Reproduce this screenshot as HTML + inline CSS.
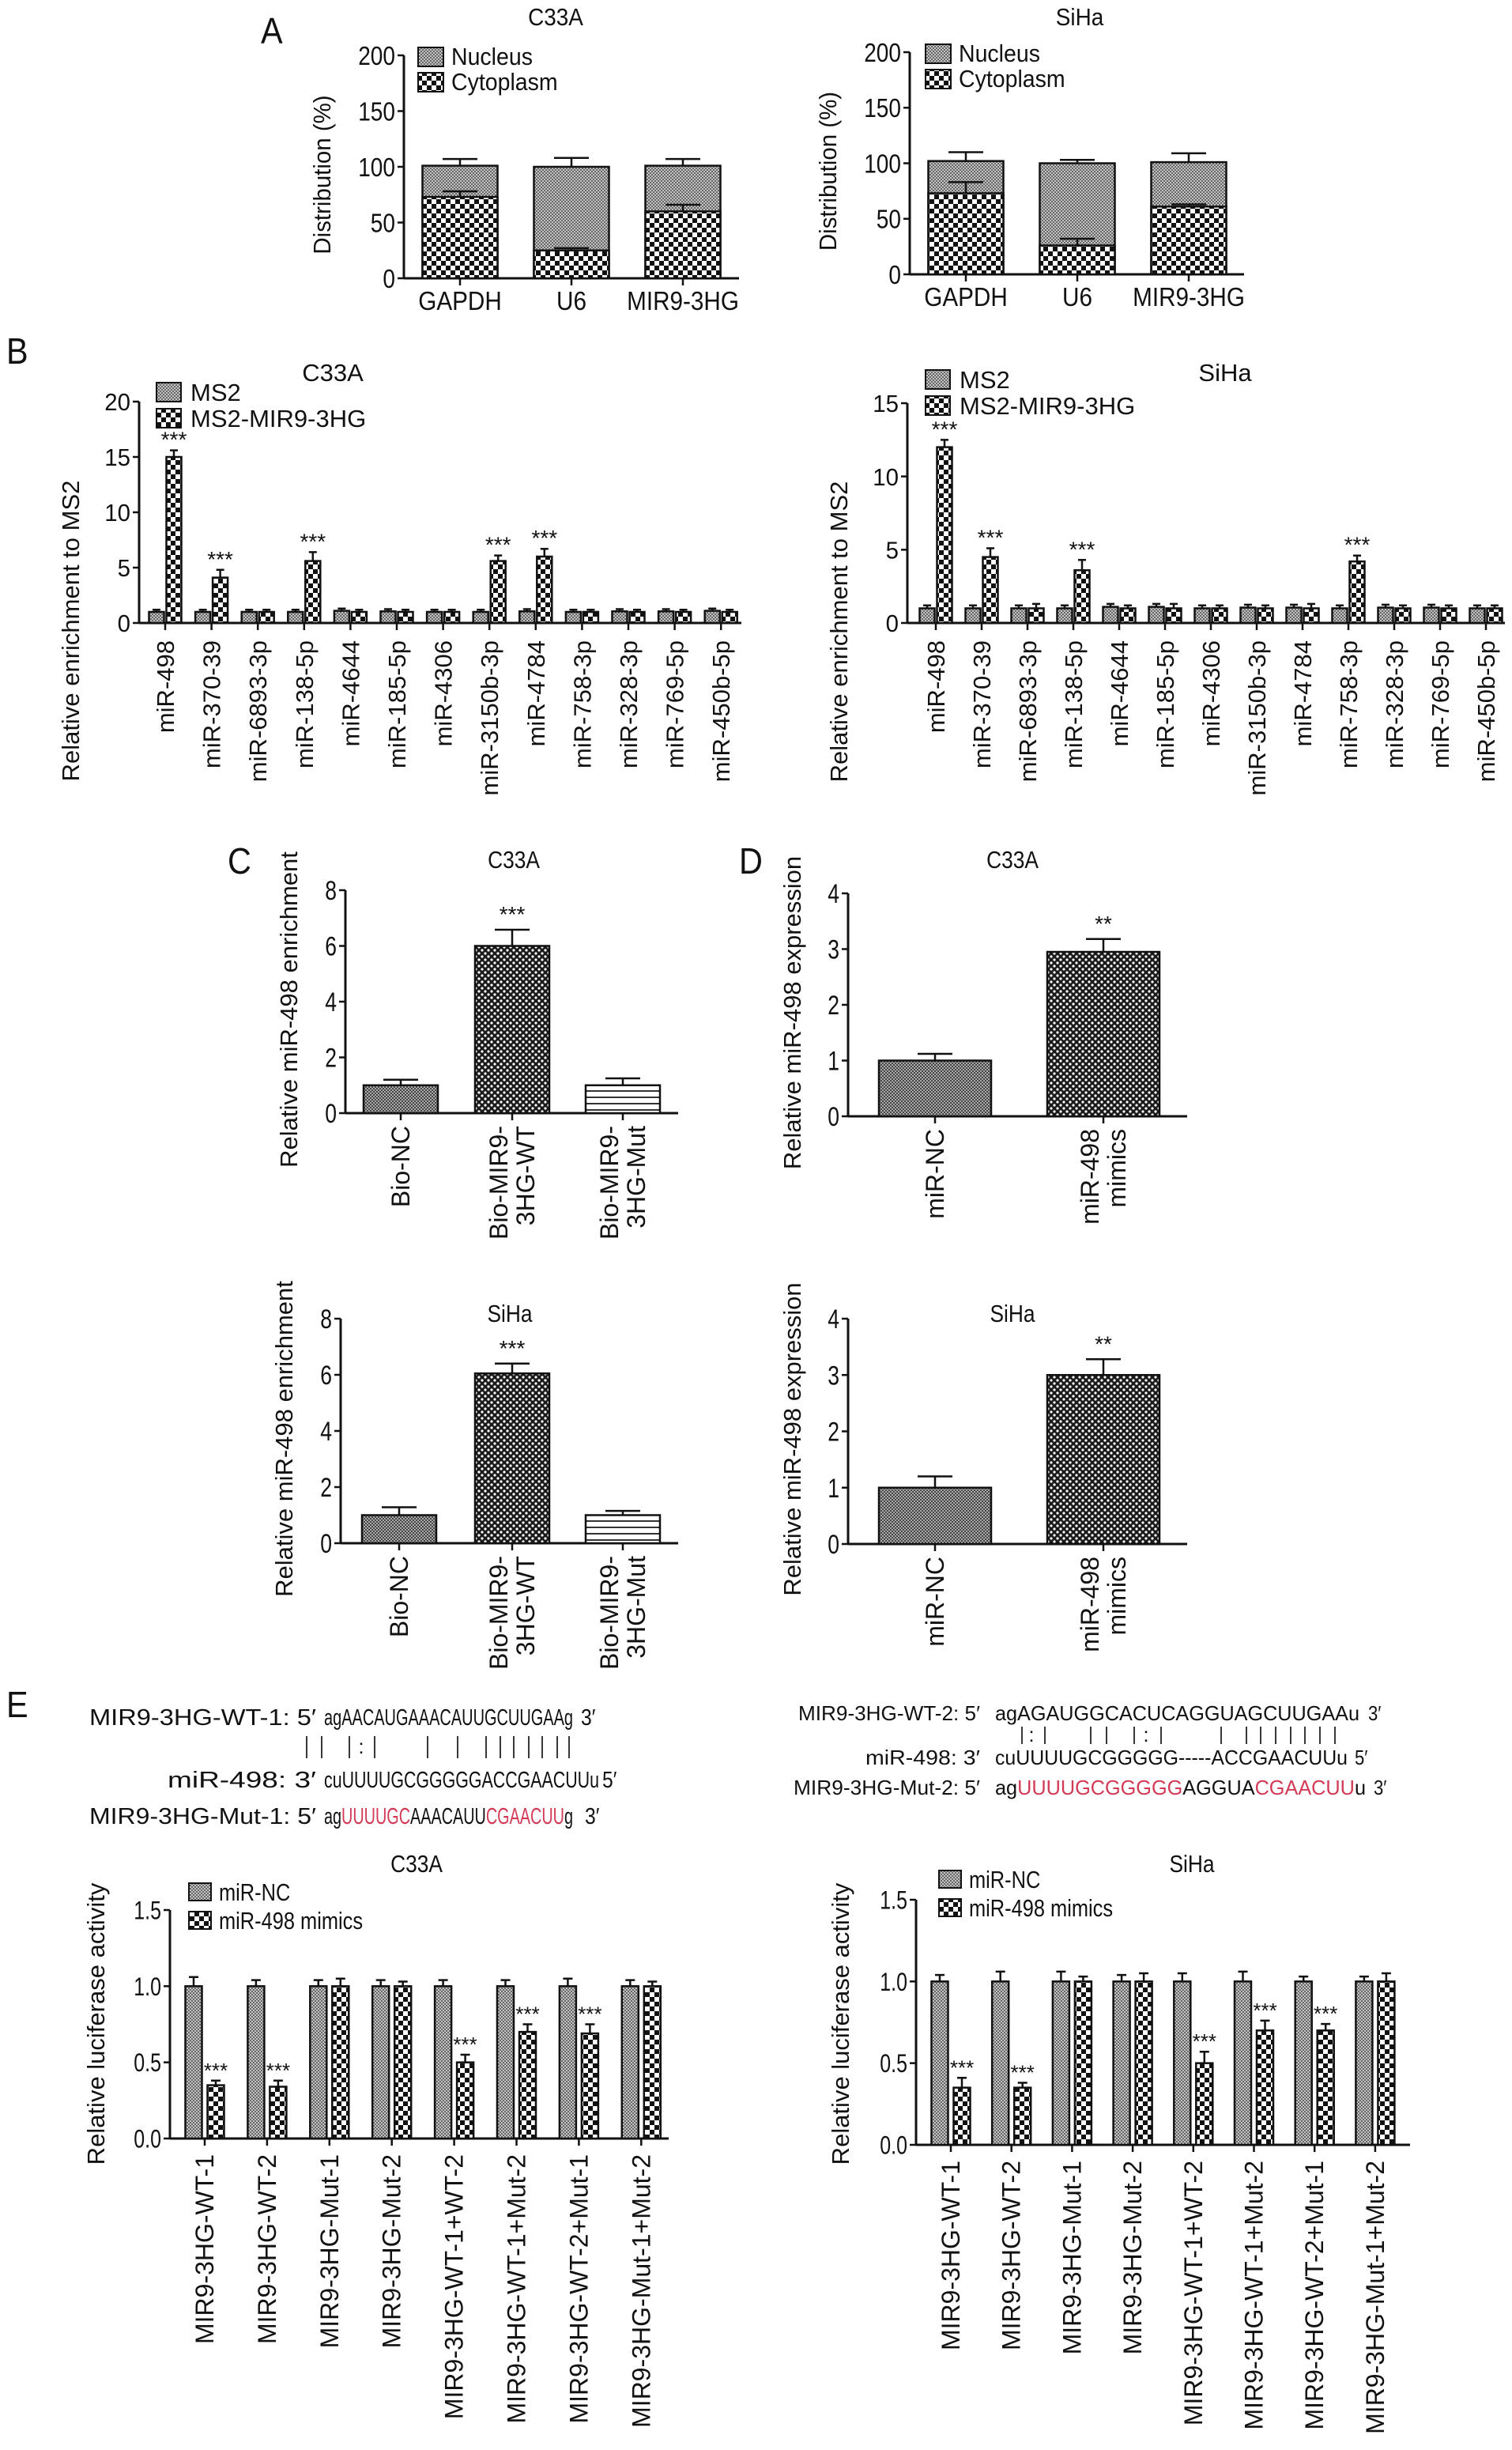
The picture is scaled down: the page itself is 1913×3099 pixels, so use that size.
<!DOCTYPE html>
<html><head><meta charset="utf-8"><title>Figure</title>
<style>html,body{margin:0;padding:0;background:#fff}svg{display:block;font-family:"Liberation Sans",Arial,sans-serif}</style>
</head><body>
<svg id="fig" width="1913" height="3099" viewBox="0 0 1913 3099" xmlns="http://www.w3.org/2000/svg">
<defs>
<pattern id="pGray" width="4" height="4" patternUnits="userSpaceOnUse"><rect width="4" height="4" fill="#c4c4c4"/><rect width="2" height="2" fill="#666"/><rect x="2" y="2" width="2" height="2" fill="#666"/></pattern>
<pattern id="pCheck" width="12" height="12" patternUnits="userSpaceOnUse"><rect width="12" height="12" fill="#fff"/><rect width="6" height="6" fill="#111"/><rect x="6" y="6" width="6" height="6" fill="#111"/></pattern>
<pattern id="pDot" width="8" height="8" patternUnits="userSpaceOnUse"><rect width="8" height="8" fill="#1a1a1a"/><circle cx="2" cy="2" r="1.6" fill="#fff"/><circle cx="6" cy="6" r="1.6" fill="#fff"/></pattern>
<pattern id="pStripe" width="8" height="8" patternUnits="userSpaceOnUse"><rect width="8" height="8" fill="#fff"/><rect y="3" width="8" height="2" fill="#333"/></pattern>
<pattern id="pDark" width="4" height="4" patternUnits="userSpaceOnUse"><rect width="4" height="4" fill="#aaa"/><rect width="2" height="2" fill="#444"/><rect x="2" y="2" width="2" height="2" fill="#444"/></pattern>
</defs>
</svg>
<script>
// ---------- Panel A data ----------
const aCats = ['GAPDH', 'U6', 'MIR9-3HG'];
const aC33aCyto = [73, 25, 60];
const aC33aCytoErr = [5, 2, 6];
const aC33aTotal = [101, 100, 101];
const aC33aTotalErr = [6, 8, 6];
const aSihaCyto = [73, 26, 61];
const aSihaCytoErr = [10, 6, 2];
const aSihaTotal = [102, 100, 101];
const aSihaTotalErr = [8, 3, 8];
const aTicks = [0, 50, 100, 150, 200];
// ---------- Panel B data ----------
const bC33aCats = ['miR-498','miR-370-39','miR-6893-3p','miR-138-5p','miR-4644','miR-185-5p','miR-4306','miR-3150b-3p','miR-4784','miR-758-3p','miR-328-3p','miR-769-5p','miR-450b-5p'];
const bC33aMs2 = [1, 1, 1, 1, 1.1, 1.05, 1, 1, 1.05, 1, 1.05, 1.05, 1.1];
const bC33aMir = [15, 4.1, 1, 5.6, 1, 1, 1, 5.6, 6, 1, 1, 1, 1];
const bC33aMirErr = [0.6, 0.7, 0.2, 0.8, 0.2, 0.2, 0.2, 0.5, 0.7, 0.2, 0.2, 0.2, 0.2];
const bC33aSig = ['***','***','','***','','','','***','***','','','',''];
const bC33aTicks = [0, 5, 10, 15, 20];
const bSihaCats = ['miR-498','miR-370-39','miR-6893-3p','miR-138-5p','miR-4644','miR-185-5p','miR-4306','miR-3150b-3p','miR-4784','miR-758-3p','miR-328-3p','miR-769-5p','miR-450b-5p'];
const bSihaMs2 = [1, 1, 1, 1, 1.1, 1.1, 1, 1.05, 1.05, 1, 1.05, 1.05, 1];
const bSihaMir = [12, 4.5, 1, 3.6, 1, 1, 1, 1, 1, 4.2, 1, 1, 1];
const bSihaMirErr = [0.5, 0.6, 0.3, 0.7, 0.2, 0.3, 0.2, 0.2, 0.3, 0.4, 0.2, 0.2, 0.2];
const bSihaSig = ['***','***','','***','','','','','','***','','',''];
const bSihaTicks = [0, 5, 10, 15];
// ---------- Panel C / D data ----------
const cCats = [['Bio-NC'], ['Bio-MIR9-', '3HG-WT'], ['Bio-MIR9-', '3HG-Mut']];
const cC33aVals = [1, 6, 1];
const cC33aErr = [0.2, 0.58, 0.25];
const cSihaVals = [1, 6.05, 1];
const cSihaErr = [0.28, 0.35, 0.15];
const cSig = ['', '***', ''];
const cTicks = [0, 2, 4, 6, 8];
const dCats = [['miR-NC'], ['miR-498', 'mimics']];
const dC33aVals = [1, 2.95];
const dC33aErr = [0.12, 0.23];
const dSihaVals = [1, 3.0];
const dSihaErr = [0.2, 0.28];
const dSig = ['', '**'];
const dTicks = [0, 1, 2, 3, 4];
// ---------- Panel E data ----------
const eCats = ['MIR9-3HG-WT-1','MIR9-3HG-WT-2','MIR9-3HG-Mut-1','MIR9-3HG-Mut-2','MIR9-3HG-WT-1+WT-2','MIR9-3HG-WT-1+Mut-2','MIR9-3HG-WT-2+Mut-1','MIR9-3HG-Mut-1+Mut-2'];
const eC33aNc = [1, 1, 1, 1, 1, 1, 1, 1];
const eC33aNcErr = [0.06, 0.04, 0.04, 0.04, 0.04, 0.04, 0.05, 0.04];
const eC33aMim = [0.35, 0.34, 1, 1, 0.5, 0.7, 0.69, 1];
const eC33aMimErr = [0.03, 0.04, 0.05, 0.03, 0.05, 0.05, 0.06, 0.03];
const eSihaNc = [1, 1, 1, 1, 1, 1, 1, 1];
const eSihaNcErr = [0.04, 0.06, 0.06, 0.04, 0.05, 0.06, 0.03, 0.03];
const eSihaMim = [0.35, 0.35, 1, 1, 0.5, 0.7, 0.7, 1];
const eSihaMimErr = [0.06, 0.03, 0.03, 0.05, 0.07, 0.06, 0.04, 0.05];
const eSig = ['***','***','','','***','***','***',''];
const eTicks = [0, 0.5, 1.0, 1.5];
const eTickLabels = ['0.0', '0.5', '1.0', '1.5'];

const NS = 'http://www.w3.org/2000/svg';
const svg = document.getElementById('fig');
function el(tag, parent, attrs) {
  const e = document.createElementNS(NS, tag);
  if (attrs) for (const k in attrs) e.setAttribute(k, attrs[k]);
  parent.appendChild(e);
  return e;
}
function T(parent, x, y, s, size, anchor, sx, rot) {
  const t = el('text', parent, {'font-size': size, 'text-anchor': anchor || 'start', fill: '#111'});
  let tr = 'translate(' + x + ',' + y + ')';
  if (rot) tr += ' rotate(' + rot + ')';
  if (sx && sx !== 1) tr += ' scale(' + sx + ',1)';
  t.setAttribute('transform', tr);
  t.textContent = s;
  return t;
}
function grp(name) {
  const g = el('g', svg);
  
  
  return g;
}
function scale(y0, yTop, max) { return v => y0 - (v / max) * (y0 - yTop); }
function axes(g, ax, axEnd, y0, yTop, max, ticks, labels, fs, sx) {
  const ys = scale(y0, yTop, max);
  const ya = el('line', g, {x1: ax, x2: ax, y1: yTop, y2: y0, stroke: '#111', 'stroke-width': 3});
  
  
  const xa = el('line', g, {x1: ax, x2: axEnd, y1: y0, y2: y0, stroke: '#111', 'stroke-width': 3});
  
  
  ticks.forEach((v, i) => {
    const tk = el('line', g, {x1: ax - 8, x2: ax, y1: ys(v), y2: ys(v), stroke: '#111', 'stroke-width': 2.5});
    
    
    const tl = T(g, ax - 11, ys(v) + fs * 0.36, labels ? labels[i] : String(v), fs, 'end', sx);
    
    
  });
  return ys;
}
function bar(g, cx, w, yv, ys, fill, name) {
  const r = el('rect', g, {x: cx - w / 2, y: Math.min(ys(yv), ys(0)), width: w, height: Math.abs(ys(0) - ys(yv)), fill: fill, stroke: '#111', 'stroke-width': 2.5});
  
  
  return r;
}
function err(g, cx, v, e, ys, cap) {
  const p = el('path', g, {d: 'M' + cx + ',' + ys(v) + 'V' + ys(v + e) + 'M' + (cx - cap) + ',' + ys(v + e) + 'H' + (cx + cap), stroke: '#111', 'stroke-width': 2.5, fill: 'none'});
  
  
}
function xtick(g, cx, y0) {
  const l = el('line', g, {x1: cx, x2: cx, y1: y0, y2: y0 + 9, stroke: '#111', 'stroke-width': 2.5});
  
  
}
function legendBox(g, x, y, w, h, fill) {
  const r = el('rect', g, {x: x, y: y, width: w, height: h, fill: fill, stroke: '#111', 'stroke-width': 2});
  
  
}

// ---------- Panel letters ----------
[['A', 330, 55], ['B', 8, 460], ['C', 288, 1105], ['D', 935, 1105], ['E', 8, 2172]].forEach(p => {
  const t = T(svg, p[1], p[2], p[0], 46, 'start', 0.9);
  
  
});

// ---------- Panel A ----------
function panelA(name, ax, axEnd, y0, yTop, centers, cyto, cytoErr, total, totalErr, title, tx, ty, ytx, legX, legY) {
  const g = grp(name);
  const ys = axes(g, ax, axEnd, y0, yTop, 200, aTicks, null, 33, 0.85);
  const tt = T(g, tx, ty, title, 31, 'middle', 0.9);
  
  
  const yt = T(g, ytx, (y0 + yTop) / 2 + 10, 'Distribution (%)', 31, 'middle', 0.95, -90);
  
  
  aCats.forEach((c, i) => {
    const cx = centers[i];
    bar(g, cx, 95, total[i], ys, 'url(#pGray)', 'bar-nucleus');
    const cr = el('rect', g, {x: cx - 47.5, y: ys(cyto[i]), width: 95, height: ys(0) - ys(cyto[i]), fill: 'url(#pCheck)', stroke: '#111', 'stroke-width': 2.5});
    
    
    err(g, cx, total[i], totalErr[i], ys, 22);
    err(g, cx, cyto[i], cytoErr[i], ys, 22);
    xtick(g, cx, y0);
    const xl = T(g, cx, y0 + 40, c, 33, 'middle', 0.9);
    
    
  });
  legendBox(g, legX, legY, 32, 24, 'url(#pGray)');
  legendBox(g, legX, legY + 32, 32, 24, 'url(#pCheck)');
  const l1 = T(g, legX + 42, legY + 22, 'Nucleus', 31, 'start', 0.92);
  
  
  const l2 = T(g, legX + 42, legY + 54, 'Cytoplasm', 31, 'start', 0.92);
  
  
}
panelA('panel-a-c33a', 511, 935, 352, 70, [582, 723, 864], aC33aCyto, aC33aCytoErr, aC33aTotal, aC33aTotalErr, 'C33A', 703, 32, 418, 529, 60);
panelA('panel-a-siha', 1151, 1574, 347, 66, [1222, 1363, 1504], aSihaCyto, aSihaCytoErr, aSihaTotal, aSihaTotalErr, 'SiHa', 1366, 32, 1058, 1171, 56);

// ---------- Panel B ----------
function panelB(name, ax, axEnd, y0, yTop, max, ticks, firstC, spacing, cats, ms2, mir, mirErr, sig, title, tx, ty, ytx, legX, legY) {
  const g = grp(name);
  const ys = axes(g, ax, axEnd, y0, yTop, max, ticks, null, 31, 0.95);
  const tt = T(g, tx, ty, title, 31, 'middle');
  
  
  const yt = T(g, ytx, (y0 + yTop) / 2 + 150, 'Relative enrichment to MS2', 31, 'middle', 1, -90);
  
  
  cats.forEach((c, i) => {
    const cx = firstC + i * spacing;
    bar(g, cx - 11, 19, ms2[i], ys, 'url(#pGray)', 'bar-ms2');
    err(g, cx - 11, ms2[i], 0.2, ys, 5);
    bar(g, cx + 11, 19, mir[i], ys, 'url(#pCheck)', 'bar-ms2-mir9-3hg');
    err(g, cx + 11, mir[i], mirErr[i], ys, 5);
    if (sig[i]) {
      const s = T(g, cx + 11, ys(mir[i] + mirErr[i]) - 4, sig[i], 28, 'middle');
      
      
    }
    xtick(g, cx, y0);
    const xl = T(g, cx + 11, y0 + 22, c, 31, 'end', 1, -90);
    
    
  });
  legendBox(g, legX, legY, 31, 24, 'url(#pGray)');
  legendBox(g, legX, legY + 33, 31, 24, 'url(#pCheck)');
  const l1 = T(g, legX + 43, legY + 23, 'MS2', 31);
  
  
  const l2 = T(g, legX + 43, legY + 56, 'MS2-MIR9-3HG', 31);
  
  
}
panelB('panel-b-c33a', 176, 938, 788, 508, 20, bC33aTicks, 209, 58.6, bC33aCats, bC33aMs2, bC33aMir, bC33aMirErr, bC33aSig, 'C33A', 421, 482, 100, 198, 484);
panelB('panel-b-siha', 1148, 1904, 788, 510, 15, bSihaTicks, 1184, 58, bSihaCats, bSihaMs2, bSihaMir, bSihaMirErr, bSihaSig, 'SiHa', 1550, 482, 1072, 1171, 468);

// ---------- Panels C / D ----------
function panelCD(name, ax, axEnd, y0, yTop, max, ticks, centers, w, cats, vals, errs, sig, fills, title, tx, ty, ytitle, ytx) {
  const g = grp(name);
  const ys = axes(g, ax, axEnd, y0, yTop, max, ticks, null, 34, 0.78);
  const tt = T(g, tx, ty, title, 31, 'middle', 0.85);
  
  
  const yt = T(g, ytx, (y0 + yTop) / 2 + 10, ytitle, 31, 'middle', 1, -90);
  
  
  cats.forEach((c, i) => {
    const cx = centers[i];
    bar(g, cx, w, vals[i], ys, fills[i], 'bar-' + c.join('').toLowerCase().replace(/[^a-z0-9]+/g, '-'));
    err(g, cx, vals[i], errs[i], ys, 22);
    if (sig[i]) {
      const s = T(g, cx, ys(vals[i] + errs[i]) - 10, sig[i], 28, 'middle');
      
      
    }
    xtick(g, cx, y0);
    c.forEach((line, j) => {
      const off = (j - (c.length - 1) / 2) * 34;
      const xl = T(g, cx + off + 11, y0 + 16, line, 32, 'end', 1, -90);
      
      
    });
  });
}
const cFills = ['url(#pDark)', 'url(#pDot)', 'url(#pStripe)'];
const dFills = ['url(#pDark)', 'url(#pDot)'];
panelCD('panel-c-c33a', 437, 858, 1408, 1126, 8, cTicks, [507, 648, 788], 94, cCats, cC33aVals, cC33aErr, cSig, cFills, 'C33A', 650, 1098, 'Relative miR-498 enrichment', 376);
panelCD('panel-c-siha', 431, 858, 1952, 1668, 8, cTicks, [505, 648, 788], 94, cCats, cSihaVals, cSihaErr, cSig, cFills, 'SiHa', 645, 1672, 'Relative miR-498 enrichment', 370);
panelCD('panel-d-c33a', 1073, 1502, 1412, 1130, 4, dTicks, [1183, 1396], 142, dCats, dC33aVals, dC33aErr, dSig, dFills, 'C33A', 1281, 1098, 'Relative miR-498 expression', 1013);
panelCD('panel-d-siha', 1073, 1502, 1953, 1668, 4, dTicks, [1183, 1396], 142, dCats, dSihaVals, dSihaErr, dSig, dFills, 'SiHa', 1281, 1672, 'Relative miR-498 expression', 1013);

// ---------- Panel E sequences ----------
const RED = '#d23a55';
function seqRow(g, lx1, lx2, y, label, parts, x1, x2, endLbl, endX, name, fs) {
  const lb = el('text', g, {x: lx1, y: y, 'font-size': fs, textLength: lx2 - lx1, lengthAdjust: 'spacingAndGlyphs', fill: '#111'});
  lb.textContent = label;
  
  
  const t = el('text', g, {x: x1, y: y, 'font-size': fs, textLength: x2 - x1, lengthAdjust: 'spacingAndGlyphs', fill: '#111'});
  
  
  parts.forEach(p => {
    const ts = el('tspan', t, {fill: p[1] ? RED : '#111'});
    ts.textContent = p[0];
  });
  const e = T(g, endX, y, endLbl, fs, 'start', 0.85);
  
  
}
function pairs(g, xs, chars, yTop, yBot) {
  xs.forEach((x, i) => {
    if (chars[i] === '|') {
      const l = el('line', g, {x1: x, x2: x, y1: yTop, y2: yBot, stroke: '#222', 'stroke-width': 1.8});
      
      
    } else {
      const c = T(g, x, (yTop + yBot) / 2 + 8, ':', 26, 'middle');
      
      
    }
  });
}
const gs1 = grp('sequence-alignment-1');
seqRow(gs1, 113, 400, 2182, 'MIR9-3HG-WT-1: 5′', [['agAACAUGAAACAUUGCUUGAAg', 0]], 410, 725, '3′', 735, 'wt-1', 29);
pairs(gs1, [388, 407, 442, 457, 474, 541, 579, 615, 633, 650, 669, 686, 705, 720], ['|','|','|',':','|','|','|','|','|','|','|','|','|','|'], 2196, 2224);
seqRow(gs1, 212, 400, 2261, 'miR-498: 3′', [['cuUUUUGCGGGGGACCGAACUUu', 0]], 410, 758, '5′', 762, 'mir-498-a', 29);
seqRow(gs1, 113, 400, 2307, 'MIR9-3HG-Mut-1: 5′', [['ag', 0], ['UUUUGC', 1], ['AAACAUU', 0], ['CGAACUU', 1], ['g', 0]], 410, 725, '3′', 740, 'mut-1', 29);
const gs2 = grp('sequence-alignment-2');
seqRow(gs2, 1010, 1240, 2176, 'MIR9-3HG-WT-2: 5′', [['agAGAUGGCACUCAGGUAGCUUGAAu', 0]], 1259, 1720, '3′', 1731, 'wt-2', 26);
pairs(gs2, [1293, 1305, 1322, 1380, 1400, 1435, 1450, 1469, 1545, 1577, 1595, 1614, 1633, 1651, 1670, 1689], ['|',':','|','|','|','|',':','|','|','|','|','|','|','|','|','|'], 2184, 2206);
seqRow(gs2, 1095, 1240, 2232, 'miR-498: 3′', [['cuUUUUGCGGGGG-----ACCGAACUUu', 0]], 1259, 1705, '5′', 1714, 'mir-498-b', 26);
seqRow(gs2, 1004, 1240, 2270, 'MIR9-3HG-Mut-2: 5′', [['ag', 0], ['UUUUGCGGGGG', 1], ['AGGUA', 0], ['CGAACUU', 1], ['u', 0]], 1259, 1728, '3′', 1738, 'mut-2', 26);

// ---------- Panel E charts ----------
function panelE(name, ax, axEnd, y0, yTop, firstC, spacing, nc, ncErr, mim, mimErr, title, tx, ytx, legX, legY) {
  const g = grp(name);
  const ys = axes(g, ax, axEnd, y0, yTop, 1.5, eTicks, eTickLabels, 32, 0.78);
  const tt = T(g, tx, 2368, title, 31, 'middle', 0.85);
  
  
  const yt = T(g, ytx, 2560, 'Relative luciferase activity', 31, 'middle', 1, -90);
  
  
  eCats.forEach((c, i) => {
    const cx = firstC + i * spacing;
    bar(g, cx, 21, nc[i], ys, 'url(#pGray)', 'bar-mir-nc');
    err(g, cx, nc[i], ncErr[i], ys, 6);
    bar(g, cx + 28, 21, mim[i], ys, 'url(#pCheck)', 'bar-mir-498-mimics');
    err(g, cx + 28, mim[i], mimErr[i], ys, 6);
    if (eSig[i]) {
      const s = T(g, cx + 28, ys(mim[i] + mimErr[i]) - 4, eSig[i], 26, 'middle');
      
      
    }
    xtick(g, cx + 14, y0);
    const xl = T(g, cx + 25, y0 + 20, c, 32, 'end', 1, -90);
    
    
  });
  legendBox(g, legX, legY, 28, 22, 'url(#pGray)');
  legendBox(g, legX, legY + 36, 28, 22, 'url(#pCheck)');
  const l1 = T(g, legX + 38, legY + 22, 'miR-NC', 31, 'start', 0.82);
  
  
  const l2 = T(g, legX + 38, legY + 58, 'miR-498 mimics', 31, 'start', 0.82);
  
  
}
panelE('panel-e-c33a', 215, 846, 2705, 2416, 245, 78.9, eC33aNc, eC33aNcErr, eC33aMim, eC33aMimErr, 'C33A', 527, 132, 239, 2382);
panelE('panel-e-siha', 1159, 1784, 2713, 2403, 1189, 76.7, eSihaNc, eSihaNcErr, eSihaMim, eSihaMimErr, 'SiHa', 1508, 1074, 1188, 2366);
</script>
</body></html>
